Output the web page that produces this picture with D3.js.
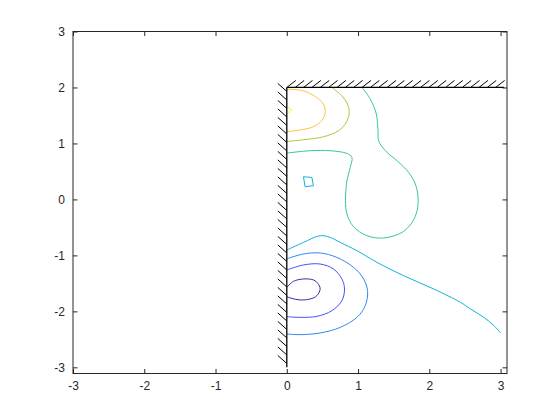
<!DOCTYPE html>
<html>
<head>
<meta charset="utf-8">
<script src="https://cdn.jsdelivr.net/npm/d3@7"></script>
<style>
  body { margin: 0; background: #fff; }
  svg { display: block; }
  text { font-family: "Liberation Sans", Arial, sans-serif; }
</style>
</head>
<body>
<svg id="chart" width="560" height="420"></svg>
<script>
// ---- Data ----
const xTicks = [-3, -2, -1, 0, 1, 2, 3];
const yTicks = [-3, -2, -1, 0, 1, 2, 3];
const xDomain = [-3, 3.09];
const yDomain = [-3.11, 3];

// contour lines, level order low -> high
const level1 = [[0,-1.571],[0.093,-1.464],[0.234,-1.421],[0.375,-1.439],[0.436,-1.5],[0.468,-1.6],[0.422,-1.72],[0.328,-1.779],[0.187,-1.796],[0.07,-1.768],[0,-1.738]];
const level2 = [[0,-1.261],[0.234,-1.171],[0.468,-1.154],[0.656,-1.243],[0.773,-1.421],[0.81,-1.6],[0.773,-1.809],[0.633,-1.988],[0.422,-2.089],[0.187,-2.107],[0,-2.095]];
const level3 = [[0,-1.061],[0.234,-0.975],[0.468,-0.957],[0.703,-1.036],[0.937,-1.214],[1.078,-1.421],[1.134,-1.643],[1.101,-1.898],[0.985,-2.107],[0.75,-2.286],[0.468,-2.386],[0.187,-2.416],[0,-2.404]];
const level4a = [[0,-0.904],[0.234,-0.768],[0.468,-0.648],[0.609,-0.679],[0.75,-0.768],[0.985,-0.916],[1.266,-1.125],[1.64,-1.363],[2.062,-1.6],[2.437,-1.839],[2.578,-1.957],[2.765,-2.107],[2.906,-2.255],[3.0,-2.386]];
const level4b = [[0.234,0.405],[0.352,0.393],[0.374,0.245],[0.257,0.227],[0.234,0.405]];
const level5 = [[1.055,2.0],[1.172,1.793],[1.256,1.525],[1.28,1.227],[1.289,1.048],[1.383,0.87],[1.547,0.691],[1.71,0.482],[1.804,0.275],[1.842,0.036],[1.828,-0.202],[1.758,-0.411],[1.617,-0.589],[1.359,-0.689],[1.125,-0.648],[0.937,-0.488],[0.844,-0.261],[0.824,-0.023],[0.844,0.334],[0.89,0.571],[0.914,0.75],[0.844,0.821],[0.609,0.87],[0.328,0.87],[0,0.828]];
const level6 = [[0.633,2.0],[0.773,1.85],[0.853,1.7],[0.876,1.55],[0.834,1.375],[0.726,1.227],[0.515,1.12],[0.234,1.066],[0,1.036]];
const level7 = [[0,1.97],[0.234,1.94],[0.42,1.82],[0.515,1.7],[0.539,1.55],[0.492,1.41],[0.375,1.3],[0.187,1.24],[0,1.21]];
const level8 = [[0.0,1.66],[0.07,1.6],[0.015,1.54]];

const contours = [
  { pts: level1,  color: "#3E26A8", curve: "smooth" },
  { pts: level2,  color: "#4752F4", curve: "smooth" },
  { pts: level3,  color: "#2D87F7", curve: "smooth" },
  { pts: level4a, color: "#12B1D6", curve: "smooth" },
  { pts: level4b, color: "#12B1D6", curve: "linear" },
  { pts: level5,  color: "#37C897", curve: "smooth" },
  { pts: level6,  color: "#ABC739", curve: "smooth" },
  { pts: level7,  color: "#FEC338", curve: "smooth" },
  { pts: level8,  color: "#F9FB15", curve: "linear" }
];

// walls
const wallVertical = [[0, 2], [0, -3]];
const wallTop = [[0, 2], [3.05, 2]];

// ---- Layout ----
const svg = d3.select("#chart");
const L = 73, R = 507, T = 31.5, B = 373.5;
const x = d3.scaleLinear().domain(xDomain).range([L, R]);
const y = d3.scaleLinear().domain(yDomain).range([B, T]);
const axisColor = "#262626";

svg.append("defs").append("clipPath").attr("id", "clip")
  .append("rect").attr("x", L).attr("y", T).attr("width", R - L).attr("height", B - T);

const plot = svg.append("g").attr("clip-path", "url(#clip)");

// contours
contours.forEach(c => {
  const gen = d3.line().x(d => x(d[0])).y(d => y(d[1]))
    .curve(c.curve === "smooth" ? d3.curveCatmullRom.alpha(0.5) : d3.curveLinear);
  plot.append("path").attr("d", gen(c.pts))
    .attr("fill", "none").attr("stroke", c.color).attr("stroke-width", 1);
});

// walls + hatching
const wallG = svg.append("g");
const lineGen = d3.line().x(d => x(d[0])).y(d => y(d[1]));
wallG.append("path").attr("d", lineGen(wallVertical)).attr("stroke", "#000").attr("stroke-width", 1.3).attr("fill", "none");
wallG.append("path").attr("d", lineGen(wallTop)).attr("stroke", "#000").attr("stroke-width", 1.3).attr("fill", "none");

const hatchV = d3.range(33).map(i => -2.93 + i * (4.86 / 32));
hatchV.forEach(v => {
  const px = x(0), py = y(v);
  wallG.append("line").attr("x1", px).attr("y1", py).attr("x2", px - 9).attr("y2", py - 8)
    .attr("stroke", "#000").attr("stroke-width", 1);
});
const hatchH = d3.range(26).map(i => 0.0 + i * (2.93 / 25));
hatchH.forEach(u => {
  const px = x(u), py = y(2);
  wallG.append("line").attr("x1", px).attr("y1", py).attr("x2", px + 9).attr("y2", py - 7)
    .attr("stroke", "#000").attr("stroke-width", 1);
});

// axes box
svg.append("rect").attr("x", L).attr("y", T).attr("width", R - L).attr("height", B - T)
  .attr("fill", "none").attr("stroke", axisColor).attr("stroke-width", 1);

const tickLen = 4.5;
const fmt = d => String(d);
const bottomAxis = d3.axisBottom(x).tickValues(xTicks).tickSizeInner(-tickLen).tickSizeOuter(0).tickPadding(8).tickFormat(fmt);
const topAxis = d3.axisTop(x).tickValues(xTicks).tickSizeInner(-tickLen).tickSizeOuter(0).tickFormat("");
const leftAxis = d3.axisLeft(y).tickValues(yTicks).tickSizeInner(-tickLen).tickSizeOuter(0).tickPadding(8).tickFormat(fmt);
const rightAxis = d3.axisRight(y).tickValues(yTicks).tickSizeInner(-tickLen).tickSizeOuter(0).tickFormat("");

function style(g) {
  g.select(".domain").remove();
  g.selectAll("line").attr("stroke", axisColor);
  g.selectAll("text").attr("fill", axisColor).style("font-size", "12px")
    .style("font-family", "'Liberation Sans', Arial, sans-serif");
}
svg.append("g").attr("transform", `translate(0,${B})`).call(bottomAxis).call(style);
svg.append("g").attr("transform", `translate(0,${T})`).call(topAxis).call(style);
svg.append("g").attr("transform", `translate(${L},0)`).call(leftAxis).call(style);
svg.append("g").attr("transform", `translate(${R},0)`).call(rightAxis).call(style);
</script>
</body>
</html>
